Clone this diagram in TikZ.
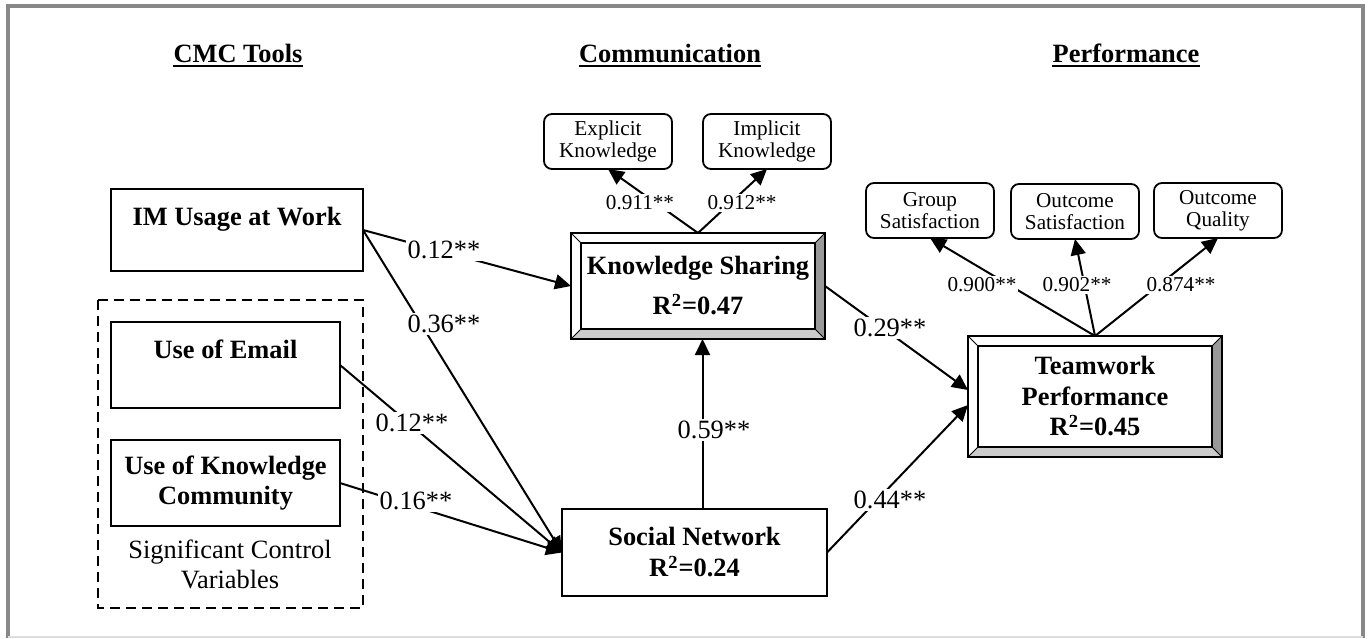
\documentclass[tikz,border=0pt]{standalone}
\usepackage{fontspec}
\setmainfont{Liberation Serif}
\usetikzlibrary{arrows.meta}
\definecolor{framegray}{HTML}{888888}
\definecolor{framelight}{HTML}{DDDDDD}
\definecolor{darkbevel}{HTML}{999999}
\definecolor{lightbevel}{HTML}{CCCCCC}
\newcommand\mainsz{\fontsize{13.2}{15}\selectfont}
\newcommand\smallsz{\fontsize{10.6}{11}\selectfont}
\begin{document}
\begin{tikzpicture}[x=0.5pt,y=-0.5pt,
  box/.style={draw, line width=1pt, inner sep=0pt, outer sep=0pt, align=center, font=\mainsz\bfseries},
  rbox/.style={draw, line width=0.9pt, rounded corners=4pt, inner sep=0pt, outer sep=0pt, align=center,
    font=\smallsz, minimum width=64pt, minimum height=27.5pt},
  bevelbox/.style={box, path picture={
      \coordinate (pSW) at (path picture bounding box.south west);
      \coordinate (pNE) at (path picture bounding box.north east);
      \coordinate (pSE) at (pSW -| pNE);
      \coordinate (pNW) at (pSW |- pNE);
      \fill[lightbevel] (pSW) -- (pSE) -- ([shift={(-5pt,5pt)}]pSE) -- ([shift={(5pt,5pt)}]pSW) -- cycle;
      \fill[darkbevel] (pSE) -- (pNE) -- ([shift={(-5pt,-5pt)}]pNE) -- ([shift={(-5pt,5pt)}]pSE) -- cycle;
      \draw[line width=0.5pt] (pSW) -- ([shift={(5pt,5pt)}]pSW) (pSE) -- ([shift={(-5pt,5pt)}]pSE)
        (pNE) -- ([shift={(-5pt,-5pt)}]pNE) (pNW) -- ([shift={(5pt,-5pt)}]pNW);
      \draw[line width=1pt] ([shift={(5pt,5pt)}]pSW) rectangle ([shift={(-5pt,-5pt)}]pNE);
    }},
  conn/.style={line width=1pt, -{Triangle[length=8pt,width=7.5pt]}},
  lab/.style={fill=white, inner sep=1pt, font=\mainsz},
  slab/.style={fill=white, inner sep=1pt, font=\smallsz},
  title/.style={inner sep=0pt, font=\mainsz\bfseries, anchor=base},
  uline/.style={line width=1pt},
]
\useasboundingbox (0,0) rectangle (1368,638);
% frame
\draw[framegray, line width=2pt] (8,638) -- (8,6) -- (1363,6) -- (1363,638);
\draw[framelight, line width=1pt] (8,637) -- (1363,637);

% titles
\node[title] (t1) at (238,62) {CMC Tools};
\node[title] (t2) at (670,62) {Communication};
\node[title] (t3) at (1126,62) {Performance};
\draw[uline] ([yshift=-2pt]t1.base west) -- ([yshift=-2pt]t1.base east);
\draw[uline] ([yshift=-2pt]t2.base west) -- ([yshift=-2pt]t2.base east);
\draw[uline] ([yshift=-2pt]t3.base west) -- ([yshift=-2pt]t3.base east);

% left column
\node[box, minimum width=126pt, minimum height=41pt, text height=9pt, text depth=14pt] (im) at (237,230) {IM Usage at Work};
\draw[line width=1pt, dash pattern=on 5pt off 3pt] (98,300) rectangle (363,608);
\node[box, minimum width=114.5pt, minimum height=43pt, text height=9pt, text depth=16pt] (em) at (225.5,365) {Use of Email};
\node[box, minimum width=114.5pt, minimum height=43pt] (kc) at (225.5,483) {Use of Knowledge\\Community};
\node[font=\mainsz, align=center, inner sep=0pt] (cap) at (230,564) {Significant Control\\Variables};

% middle column
\node[bevelbox, minimum width=127pt, minimum height=53pt] (ks) at (698,286) {Knowledge Sharing\\[5pt]R\textsuperscript{2}=0.47};
\node[rbox] (ek) at (608,141.5) {Explicit\\Knowledge};
\node[rbox] (ik) at (767,141.5) {Implicit\\Knowledge};
\node[box, minimum width=132.5pt, minimum height=43.5pt] (sn) at (694.5,552.5) {Social Network\\[0.5pt]R\textsuperscript{2}=0.24};

% right column
\node[bevelbox, minimum width=127pt, minimum height=60.5pt] (tp) at (1095,396.5) {Teamwork\\[0.5pt]Performance\\R\textsuperscript{2}=0.45};
\node[rbox] (gs) at (930,210.5) {Group\\Satisfaction};
\node[rbox] (os) at (1075,211.5) {Outcome\\Satisfaction};
\node[rbox] (oq) at (1218,210.5) {Outcome\\Quality};

% connectors
\draw[conn] (im.east) -- (ks.west);
\draw[conn] (im.east) -- (sn.west);
\draw[conn] (em.east) -- (sn.west);
\draw[conn] (kc.east) -- (sn.west);
\draw[conn] ([xshift=4pt]sn.north) -- ([xshift=4pt]sn.north |- ks.south);
\draw[conn] (ks.east) -- ([yshift=3.25pt]tp.west);
\draw[conn] (sn.east) -- ([yshift=-4.25pt]tp.west);
\draw[conn] (ks.north) -- (ek.south);
\draw[conn] (ks.north) -- (ik.south);
\draw[conn] (tp.north) -- (gs.south);
\draw[conn] (tp.north) -- (os.south);
\draw[conn] (tp.north) -- (oq.south);

% labels
\node[lab] (l1) at (444,250) {0.12**};
\node[lab] (l2) at (444,324) {0.36**};
\node[lab] (l3) at (412,423) {0.12**};
\node[lab] (l4) at (416,501) {0.16**};
\node[lab] (l5) at (714,430) {0.59**};
\node[lab] (l6) at (890,328) {0.29**};
\node[lab] (l7) at (890,500) {0.44**};
\node[slab] (s1) at (640,203) {0.911**};
\node[slab] (s2) at (742,203) {0.912**};
\node[slab] (s3) at (982,285) {0.900**};
\node[slab] (s4) at (1077,285) {0.902**};
\node[slab] (s5) at (1181,285) {0.874**};
\end{tikzpicture}
\end{document}
